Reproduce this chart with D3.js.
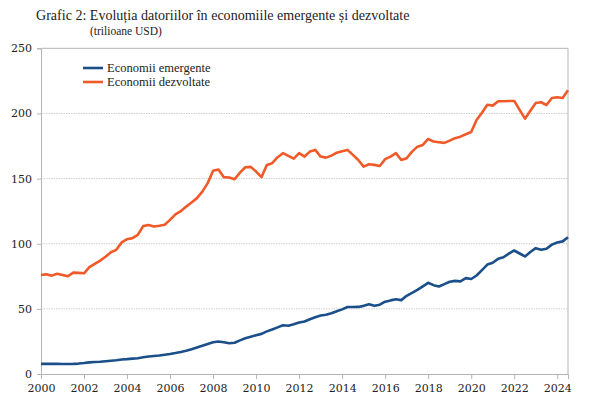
<!DOCTYPE html>
<html>
<head>
<meta charset="utf-8">
<script src="https://cdn.jsdelivr.net/npm/d3@7"></script>
<style>
  body { margin: 0; background: #fff; }
  text { font-family: "Liberation Serif", "DejaVu Serif", serif; fill: #222; }
</style>
</head>
<body>
<svg id="chart"></svg>
<script>
// periods: quarterly, 2000 T1 .. 2024 T3
var quarters = d3.range(0, 99).map(function(i) { return 2000 + i / 4; });

var emergente = [
    7.8, 7.8, 7.9, 7.8, 7.7, 7.7, 7.8, 8.0, 8.4, 8.9,
    9.2, 9.4, 9.8, 10.2, 10.6, 11.1, 11.4, 11.8, 12.1, 12.8,
    13.4, 13.8, 14.2, 14.8, 15.4, 16.1, 16.9, 17.8, 19.0, 20.3,
    21.6, 23.0, 24.3, 25.0, 24.3, 23.6, 24.0, 25.8, 27.4, 28.6,
    29.8, 30.8, 32.7, 34.2, 35.8, 37.4, 37.0, 38.2, 39.6, 40.3,
    42.0, 43.6, 44.9, 45.5, 46.6, 48.2, 49.6, 51.4, 51.4, 51.5,
    52.3, 53.6, 52.4, 53.2, 55.5, 56.5, 57.4, 56.7, 60.0, 62.3,
    64.6, 67.3, 70.0, 68.2, 67.2, 69.0, 70.8, 71.5, 71.1, 73.6,
    72.9, 75.6, 79.8, 84.0, 85.4, 88.4, 89.6, 92.4, 94.8, 92.5,
    90.2, 93.6, 96.6, 95.4, 96.2, 99.3, 100.9, 101.8, 105.0
];

var dezvoltate = [
    76.0, 76.5, 75.5, 77.0, 76.0, 75.0, 77.8, 77.6, 77.3, 82.0,
    84.5, 87.0, 90.0, 93.5, 95.3, 101.0, 103.5, 104.3, 106.8, 113.5,
    114.3, 113.2, 113.8, 114.5, 118.3, 122.5, 125.0, 128.5, 131.6, 135.0,
    140.0, 146.5, 156.0, 157.0, 151.1, 150.8, 149.5, 154.6, 158.7, 159.0,
    155.4, 151.1, 160.5, 161.8, 166.4, 169.5, 167.4, 165.3, 169.5, 166.9,
    170.7, 172.0, 166.9, 166.1, 167.6, 169.9, 171.0, 172.0, 168.2, 164.3,
    159.2, 161.0, 160.5, 159.7, 164.9, 166.9, 169.5, 164.3, 165.6, 170.7,
    174.5, 175.8, 180.4, 178.4, 177.9, 177.4, 179.1, 181.0, 182.2, 184.0,
    185.8, 195.0, 200.6, 206.7, 206.0, 209.4, 209.4, 209.6, 209.6, 202.7,
    196.0, 202.1, 208.0, 208.6, 206.5, 211.9, 212.4, 211.9, 217.8
];

var seriesNames = ['Economii emergente', 'Economii dezvoltate'];
var xTickLabels = [2000, 2002, 2004, 2006, 2008, 2010, 2012, 2014, 2016, 2018, 2020, 2022, 2024];
var yTickLabels = [0, 50, 100, 150, 200, 250];

var titleText = 'Grafic 2: Evoluția datoriilor în economiile emergente și dezvoltate';
var subtitleText = '(trilioane USD)';

function main() {
    const width = 600;
    const height = 398;
    const margin = {top: 48.3, right: 32, bottom: 24, left: 41};
    const innerW = width - margin.left - margin.right;
    const innerH = height - margin.top - margin.bottom;

    const colors = ['#1b4f8a', '#f05a28'];
    const axisColor = '#b4b4b4';
    const tickFont = '"DejaVu Serif", serif';

    const svg = d3.select('#chart')
        .attr('width', width)
        .attr('height', height);

    // title, fitted to the reference width
    const title = svg.append('text')
        .attr('x', 36)
        .attr('y', 20)
        .style('font-size', '16px')
        .text(titleText);
    const tw = title.node().getComputedTextLength();
    title.style('font-size', (16 * 374 / tw) + 'px');

    svg.append('text')
        .attr('x', 90)
        .attr('y', 35)
        .style('font-size', '11.5px')
        .text(subtitleText);

    const x = d3.scaleLinear()
        .domain([2000, d3.max(quarters)])
        .range([0, innerW]);

    const y = d3.scaleLinear()
        .domain([0, 250])
        .range([innerH, 0]);

    const g = svg.append('g')
        .attr('transform', 'translate(' + margin.left + ',' + margin.top + ')');

    // grid lines
    g.selectAll('.grid')
        .data(yTickLabels.filter(function(d) { return d > 0 && d < 250; }))
        .join('line')
        .attr('x1', 0)
        .attr('x2', innerW)
        .attr('y1', d => y(d))
        .attr('y2', d => y(d))
        .attr('stroke', '#cfcfcf')
        .attr('stroke-width', 1)
        .attr('stroke-dasharray', '1.5,1');

    // frame: top and right
    g.append('line')
        .attr('x1', 0).attr('x2', innerW)
        .attr('y1', 0).attr('y2', 0)
        .attr('stroke', axisColor);
    g.append('line')
        .attr('x1', innerW).attr('x2', innerW)
        .attr('y1', 0).attr('y2', innerH)
        .attr('stroke', axisColor);

    // axes
    const xAxis = g.append('g')
        .attr('transform', 'translate(0,' + innerH + ')')
        .call(d3.axisBottom(x)
            .tickValues(xTickLabels)
            .tickFormat(d3.format('d'))
            .tickSize(5)
            .tickPadding(5));

    const yAxis = g.append('g')
        .call(d3.axisLeft(y)
            .tickValues(yTickLabels)
            .tickSize(4)
            .tickPadding(5));

    [xAxis, yAxis].forEach(function(a) {
        a.attr('font-family', tickFont).attr('font-size', 11);
        a.select('.domain').attr('stroke', axisColor);
        a.selectAll('.tick line').attr('stroke', axisColor);
        a.selectAll('.tick text')
            .style('font-family', tickFont)
            .style('font-size', '11px')
            .attr('fill', '#222');
    });

    // lines
    const line = d3.line()
        .x((d, i) => x(quarters[i]))
        .y(d => y(d));

    [emergente, dezvoltate].forEach(function(s, k) {
        g.append('path')
            .datum(s)
            .attr('fill', 'none')
            .attr('stroke', colors[k])
            .attr('stroke-width', 2.6)
            .attr('stroke-linejoin', 'round')
            .attr('d', line);
    });

    // legend
    const legend = svg.append('g');
    seriesNames.forEach(function(name, k) {
        legend.append('line')
            .attr('x1', 83).attr('x2', 103)
            .attr('y1', 68 + k * 14).attr('y2', 68 + k * 14)
            .attr('stroke', colors[k])
            .attr('stroke-width', 2.6);
        legend.append('text')
            .attr('x', 107)
            .attr('y', 72 + k * 14)
            .style('font-size', '12.5px')
            .text(name);
    });
}

main();
</script>
</body>
</html>
